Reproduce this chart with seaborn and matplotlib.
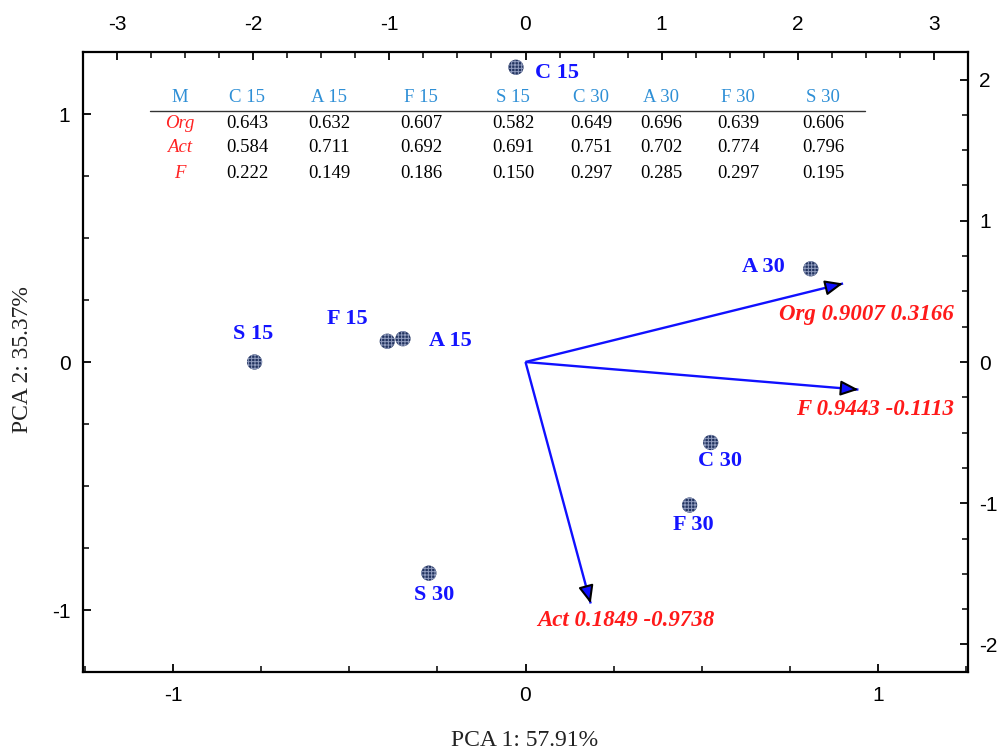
import numpy as np
import pandas as pd
import matplotlib
matplotlib.use("Agg")
import matplotlib.pyplot as plt
import seaborn as sns
from matplotlib.ticker import MultipleLocator, FuncFormatter
from matplotlib.lines import Line2D

# ---------------- data ----------------
samples = ['C 15', 'A 15', 'F 15', 'S 15', 'C 30', 'A 30', 'F 30', 'S 30']
pc1_scores = [-0.07, -0.90, -1.015, -1.99, 1.36, 2.095, 1.205, -0.71]
pc2_scores = [2.087, 0.165, 0.147, 0.0, -0.57, 0.66, -1.013, -1.495]

variables = ['Org', 'F', 'Act']
pc1_loadings = [0.9007, 0.9443, 0.1849]
pc2_loadings = [0.3166, -0.1113, -0.9738]

table_header = ['M', 'C 15', 'A 15', 'F 15', 'S 15', 'C 30', 'A 30', 'F 30', 'S 30']
table_rows = ['Org', 'Act', 'F']
org_values = ['0.643', '0.632', '0.607', '0.582', '0.649', '0.696', '0.639', '0.606']
act_values = ['0.584', '0.711', '0.692', '0.691', '0.751', '0.702', '0.774', '0.796']
f_values = ['0.222', '0.149', '0.186', '0.150', '0.297', '0.285', '0.297', '0.195']

x_label = 'PCA 1: 57.91%'
y_label = 'PCA 2: 35.37%'

# ---------------- style ----------------
sns.set_theme(style='white')
plt.rcParams['font.family'] = ['Liberation Sans', 'DejaVu Sans']
plt.rcParams['hatch.linewidth'] = 0.7

W, H = 998, 751
fig = plt.figure(figsize=(W / 100, H / 100), dpi=100)
L, R, T, B = 83, 968, 52, 672
pos = [L / W, 1 - B / H, (R - L) / W, (B - T) / H]

ax = fig.add_axes(pos)                   # loadings: bottom / left
ax2 = fig.add_axes(pos, frameon=False)   # scores: top / right
ax2.patch.set_alpha(0)

ax.set_xlim(-1.255, 1.255)
ax.set_ylim(-1.25, 1.25)
ax2.set_xlim(-3.25, 3.25)
ax2.set_ylim(-2.195, 2.195)

for s in ax.spines.values():
    s.set_linewidth(1.6)
    s.set_color('black')

tick_font = 15
ax.xaxis.set_major_locator(MultipleLocator(1))
ax.xaxis.set_minor_locator(MultipleLocator(0.25))
ax.yaxis.set_major_locator(MultipleLocator(1))
ax.yaxis.set_minor_locator(MultipleLocator(0.25))
ax.tick_params(axis='x', which='both', direction='in', bottom=True, top=False,
               labelsize=tick_font, pad=10, colors='black')
ax.tick_params(axis='y', which='both', direction='in', left=True, right=False,
               labelsize=tick_font, pad=9, colors='black')
ax.tick_params(which='major', length=6, width=1.3)
ax.tick_params(which='minor', length=4, width=1.1)

ax2.xaxis.tick_top()
ax2.yaxis.tick_right()
ax2.xaxis.set_major_locator(MultipleLocator(1))
ax2.xaxis.set_minor_locator(MultipleLocator(0.25))
ax2.yaxis.set_major_locator(MultipleLocator(1))
ax2.yaxis.set_minor_locator(MultipleLocator(0.25))
ax2.tick_params(axis='x', which='both', direction='in', top=True, bottom=False,
                labeltop=True, labelbottom=False, labelsize=tick_font, pad=13, colors='black')
ax2.tick_params(axis='y', which='both', direction='in', right=True, left=False,
                labelright=True, labelleft=False, labelsize=tick_font, pad=8, colors='black')
ax2.tick_params(which='major', length=6, width=1.3)
ax2.tick_params(which='minor', length=4, width=1.1)

for a in (ax.xaxis, ax.yaxis, ax2.xaxis, ax2.yaxis):
    a.set_major_formatter(FuncFormatter(lambda v, p: '%d' % round(v)))
ax.grid(False)
ax2.grid(False)

# ---------------- scores ----------------
df = pd.DataFrame({'sample': samples, 'pc1': pc1_scores, 'pc2': pc2_scores})
sns.scatterplot(data=df, x='pc1', y='pc2', ax=ax2, s=120, color='#22335f',
                edgecolor='none', linewidth=0, zorder=4, legend=False)
ax2.scatter(df['pc1'], df['pc2'], s=120, facecolor='none', edgecolor='#8f9bbd',
            hatch='+++++', linewidth=0, zorder=5)
ax2.set_xlabel('')
ax2.set_ylabel('')

label_offsets = {  # (dx, dy) in points, ha
    'C 15': (14, -4, 'left'),
    'A 15': (19, -2, 'left'),
    'F 15': (-29, 16, 'center'),
    'S 15': (-1, 20, 'center'),
    'C 30': (7, -13, 'center'),
    'A 30': (-19, 1, 'right'),
    'F 30': (3, -14, 'center'),
    'S 30': (4, -16, 'center'),
}
serif = ['Liberation Serif', 'DejaVu Serif']
for name, x, y in zip(samples, pc1_scores, pc2_scores):
    dx, dy, ha = label_offsets[name]
    ax2.annotate(name, (x, y), xytext=(dx, dy), textcoords='offset points',
                 ha=ha, va='center', fontsize=16, fontweight='bold',
                 color='#1414ff', family=serif, zorder=6)

# ---------------- loadings ----------------
px_per_x = (R - L) / (ax.get_xlim()[1] - ax.get_xlim()[0])
px_per_y = (B - T) / (ax.get_ylim()[1] - ax.get_ylim()[0])
load_text_offsets = {'Org': (80, -22, 'right'), 'F': (69, -14, 'right'), 'Act': (25, -12, 'center')}
for name, lx, ly in zip(variables, pc1_loadings, pc2_loadings):
    ax.plot([0, lx], [0, ly], color='#1010ff', lw=1.7, zorder=3, solid_capstyle='butt')
    vx, vy = lx * px_per_x, ly * px_per_y
    n = np.hypot(vx, vy)
    back = 10.0
    sx = lx - back * vx / n / px_per_x
    sy = ly - back * vy / n / px_per_y
    ax.annotate('', xy=(lx, ly), xytext=(sx, sy),
                arrowprops=dict(arrowstyle='-|>,head_length=0.9,head_width=0.38',
                                fc='#1010ff', ec='black', lw=1.5, shrinkA=0, shrinkB=0),
                zorder=4)
    dx, dy, ha = load_text_offsets[name]
    ax.annotate(f'{name} {lx:.4f} {ly:.4f}', (lx, ly), xytext=(dx, dy),
                textcoords='offset points', ha=ha, va='center', fontsize=16.5,
                fontweight='bold', fontstyle='italic', color='#ff1a1a', family=serif)

# ---------------- axis labels ----------------
fig.text(525 / W, 1 - 740 / H, x_label, ha='center', va='center', fontsize=17,
         family=serif, color='#222222')
fig.text(23 / W, 1 - 360 / H, y_label, ha='center', va='center', fontsize=17,
         family=serif, rotation=90, color='#222222')

# ---------------- table ----------------
col_x = [180, 247, 329, 421, 513, 591, 661, 738, 823]
head_y, row_ys = 98, [124, 148, 173]
hdr_color = '#2e8fd6'
tfs = 13.5
for cx, h in zip(col_x, table_header):
    fig.text(cx / W, 1 - head_y / H, h, ha='center', va='center', fontsize=tfs,
             family=serif, color=hdr_color)
fig.add_artist(Line2D([150 / W, 865 / W], [1 - 111 / H, 1 - 111 / H],
                      transform=fig.transFigure, color='#333333', lw=1.0))
for ry, rname, vals in zip(row_ys, table_rows, [org_values, act_values, f_values]):
    fig.text(col_x[0] / W, 1 - ry / H, rname, ha='center', va='center', fontsize=tfs,
             family=serif, style='italic', color='#ff2222')
    for cx, v in zip(col_x[1:], vals):
        fig.text(cx / W, 1 - ry / H, v, ha='center', va='center', fontsize=tfs,
                 family=serif, color='black')

fig.savefig('out.png', dpi=100)
